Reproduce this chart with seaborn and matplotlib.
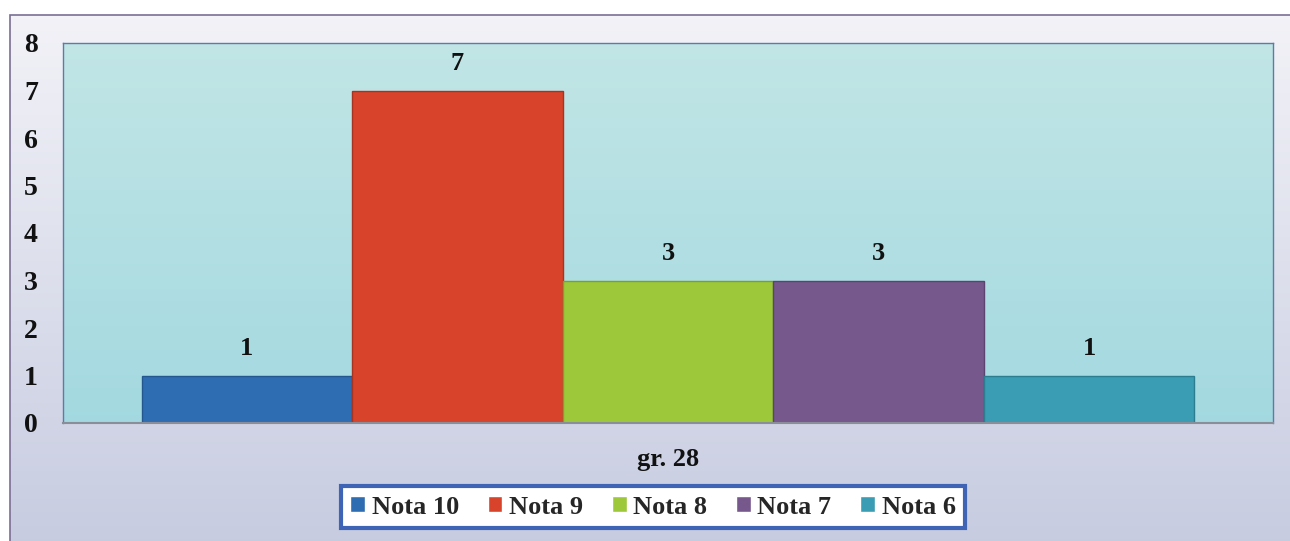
import numpy as np
import pandas as pd
import matplotlib
matplotlib.use("Agg")
import matplotlib.pyplot as plt
from matplotlib.patches import Rectangle
import seaborn as sns

# ---- data ----
groups = ["gr. 28"] * 5
series = ["Nota 10", "Nota 9", "Nota 8", "Nota 7", "Nota 6"]
values = [1, 7, 3, 3, 1]
colors = ["#2F6DB3", "#D8432B", "#9CC83A", "#77588C", "#3B9DB4"]
edge_colors = ["#24578F", "#A83320", "#7BA02C", "#5C4470", "#2D7D90"]
yticks = [0, 1, 2, 3, 4, 5, 6, 7, 8]

df = pd.DataFrame({"group": groups, "serie": series, "value": values})

sns.set_theme(style="white")
plt.rcParams["font.family"] = ["Liberation Serif", "DejaVu Serif"]
plt.rcParams["font.weight"] = "bold"

W, H = 1290, 541
fig = plt.figure(figsize=(W / 100, H / 100), dpi=100)
fig.patch.set_facecolor("white")

# figure background with gradient (chart area frame)
bg = fig.add_axes([10 / W, 0, 1 - 10 / W, 1 - 15 / H], zorder=-5)
grad = np.linspace(0, 1, 256).reshape(-1, 1)
top_c = np.array([0.95, 0.95, 0.97])
bot_c = np.array([0.78, 0.80, 0.88])
img = top_c[None, None, :] * (1 - grad[..., None]) + bot_c[None, None, :] * grad[..., None]
bg.imshow(img, aspect="auto", extent=[0, 1, 0, 1], origin="upper")
bg.set_xlim(0, 1)
bg.set_ylim(0, 1)
bg.axis("off")
fig.add_artist(Rectangle((10 / W, -0.1), 1.1, 1.1 - 15 / H, transform=fig.transFigure,
                         fill=False, edgecolor="#7A6E94", linewidth=1.2, zorder=-4))

ax = fig.add_axes([63 / W, 1 - 423 / H, (1273 - 63) / W, (423 - 43) / H])
ax.set_xlim(-0.5, 0.5)
ax.set_ylim(0, 8)

# plot area gradient background
pa_top = np.array([0.76, 0.90, 0.90])
pa_bot = np.array([0.64, 0.85, 0.88])
img2 = pa_top[None, None, :] * (1 - grad[..., None]) + pa_bot[None, None, :] * grad[..., None]
ax.imshow(img2, aspect="auto", extent=[-0.5, 0.5, 0, 8], origin="upper", zorder=0)

sns.barplot(data=df, x="group", y="value", hue="serie", hue_order=series,
            palette=dict(zip(series, colors)), width=0.87, ax=ax,
            linewidth=1.0, saturation=1, zorder=2)
ax.set_xlim(-0.5, 0.5)
ax.set_ylim(0, 8)

for cont, ec in zip(ax.containers, edge_colors):
    for p in cont.patches:
        p.set_edgecolor(ec)
    ax.bar_label(cont, fmt="%g", padding=11, fontsize=19, fontweight="bold",
                 color="#111111", family="Liberation Serif")

ax.set_yticks(yticks)
ax.set_yticklabels([str(t) for t in yticks])
ax.tick_params(axis="y", length=0, pad=18, labelsize=20)
ax.tick_params(axis="x", length=0, pad=18, labelsize=19)
for lbl in ax.get_yticklabels() + ax.get_xticklabels():
    lbl.set_fontweight("bold")
    lbl.set_color("#111111")
ax.set_xlabel("")
ax.set_ylabel("")

for s in ["top", "left", "right"]:
    ax.spines[s].set_color("#5F7AA6")
    ax.spines[s].set_linewidth(1.0)
ax.spines["bottom"].set_color("#8A8E98")
ax.spines["bottom"].set_linewidth(1.5)

handles, labels = ax.get_legend_handles_labels()
if ax.legend_:
    ax.legend_.remove()
leg = fig.legend(handles, labels, loc="center", bbox_to_anchor=(653 / W, 1 - 507 / H),
                 ncol=5, frameon=True, fancybox=False,
                 handlelength=0.55, handleheight=0.55, handletextpad=0.25,
                 columnspacing=1.1, borderpad=0.35,
                 prop={"family": "Liberation Serif", "weight": "bold", "size": 19})
leg.get_frame().set_edgecolor("#3F63B5")
leg.get_frame().set_linewidth(3)
leg.get_frame().set_facecolor("white")
leg.get_frame().set_alpha(1)

fig.savefig("out.png", dpi=100)
